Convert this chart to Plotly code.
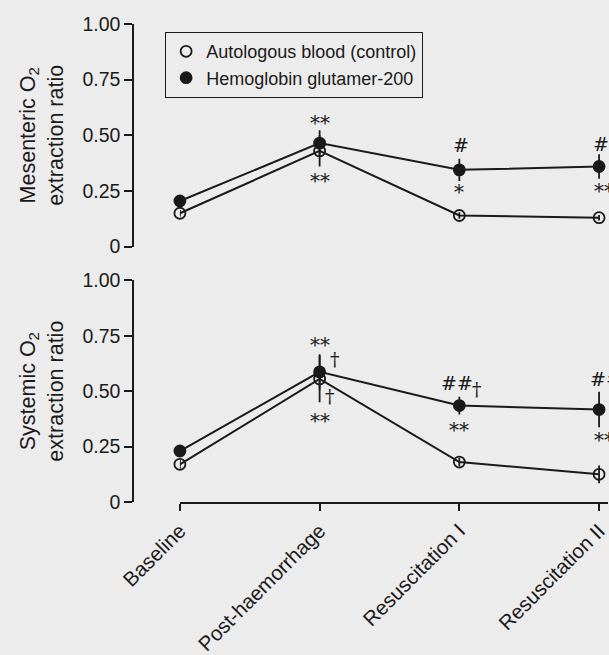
import plotly.graph_objects as go

# ---------------- data ----------------
categories = ["Baseline", "Post-haemorrhage", "Resuscitation I", "Resuscitation II"]
x_pos = [0, 1, 2, 3]

mes_auto = [0.15, 0.43, 0.14, 0.13]
mes_auto_err = [0.015, 0.07, 0.015, 0.012]
mes_hb = [0.205, 0.465, 0.345, 0.36]
mes_hb_err = [0.02, 0.058, 0.05, 0.055]

sys_auto = [0.17, 0.555, 0.18, 0.125]
sys_auto_err = [0.02, 0.105, 0.02, 0.04]
sys_hb = [0.23, 0.587, 0.435, 0.417]
sys_hb_err = [0.02, 0.08, 0.04, 0.08]

y_tickvals = [0, 0.25, 0.5, 0.75, 1.0]
y_ticktext = ["0", "0.25", "0.50", "0.75", "1.00"]

series_names = ["Autologous blood (control)", "Hemoglobin glutamer-200"]

# significance marks: (category index, series, text, yshift, xshift)
mes_marks = [
    (1, "hb", "**", 20, 0),
    (1, "auto", "**", -30, 0),
    (2, "hb", "<i>#</i>", 25, 2),
    (2, "hb", "*", -22, 0),
    (3, "hb", "<i>#</i>", 23, 2),
    (3, "hb", "**", -24, 5),
]
sys_marks = [
    (1, "hb", "**", 27, 0),
    (1, "hb", "\u2020", 13, 15),
    (1, "auto", "\u2020", -17, 10),
    (1, "auto", "**", -42, 0),
    (2, "hb", "<i>##</i>", 23, -2),
    (2, "hb", "\u2020", 17, 18),
    (2, "hb", "**", -24, 0),
    (3, "hb", "<i>##</i>", 31, 7),
    (3, "hb", "**", -30, 5),
]

# ---------------- style ----------------
BG = "#ececec"
INK = "#1a1a1a"
SANS = "Liberation Sans, Arial, Helvetica, sans-serif"
MARKFONT = "DejaVu Serif, Liberation Serif, serif"

fig = go.Figure()


def add_panel(yref, auto, auto_err, hb, hb_err, show_legend):
    for vals, err, name, sym in [
        (auto, auto_err, series_names[0], "circle-open"),
        (hb, hb_err, series_names[1], "circle"),
    ]:
        fig.add_trace(go.Scatter(
            x=x_pos, y=vals, xaxis="x", yaxis=yref, mode="lines",
            line=dict(color=INK, width=2), showlegend=False, hoverinfo="skip",
        ))
        fig.add_trace(go.Scatter(
            x=x_pos, y=vals, xaxis="x", yaxis=yref, mode="markers",
            name=name, showlegend=show_legend, cliponaxis=False,
            marker=dict(symbol=sym, size=11, color=INK,
                        line=dict(color=INK, width=1.8)),
            error_y=dict(type="data", array=err, visible=True,
                         color=INK, thickness=1.8, width=0),
        ))


add_panel("y", mes_auto, mes_auto_err, mes_hb, mes_hb_err, True)
add_panel("y2", sys_auto, sys_auto_err, sys_hb, sys_hb_err, False)

annotations = []
for lst, yref, auto, hb in [(mes_marks, "y", mes_auto, mes_hb), (sys_marks, "y2", sys_auto, sys_hb)]:
    for idx, ser, txt, ys, xs in lst:
        base = hb[idx] if ser == "hb" else auto[idx]
        size = 20 if "*" in txt else 19
        annotations.append(dict(
            x=x_pos[idx], y=base, xref="x", yref=yref, text=txt,
            showarrow=False, yshift=ys, xshift=xs,
            font=dict(family=MARKFONT, size=size, color=INK),
            xanchor="center", yanchor="middle",
        ))

axis_y_common = dict(
    range=[0, 1], tickvals=y_tickvals, ticktext=y_ticktext,
    showgrid=False, zeroline=False, showline=True, linecolor=INK, linewidth=1.5,
    ticks="outside", ticklen=8, tickwidth=1.5, tickcolor=INK,
    tickfont=dict(family=SANS, size=19.5, color=INK),
    anchor="free", position=0,
    title_font=dict(family=SANS, size=21.5, color=INK), title_standoff=12,
)

fig.update_layout(
    width=609, height=655,
    paper_bgcolor=BG, plot_bgcolor=BG,
    margin=dict(l=133, r=0, t=24, b=148),
    font=dict(family=SANS, color=INK),
    xaxis=dict(
        domain=[(180 - 133) / 476, 1], range=[0, 3.064], anchor="y2",
        tickvals=x_pos, ticktext=categories, tickangle=-45,
        ticklabeloverflow="allow",
        showgrid=False, zeroline=False, showline=True, linecolor=INK, linewidth=1.5,
        ticks="outside", ticklen=7, tickwidth=1.5, tickcolor=INK,
        tickfont=dict(family=SANS, size=20.5, color=INK),
    ),
    yaxis=dict(domain=[(507 - 249) / 483, 1],
               title_text="Mesenteric O<sub>2</sub><br>extraction ratio",
               **axis_y_common),
    yaxis2=dict(domain=[0, (507 - 283) / 483],
                title_text="Systemic O<sub>2</sub><br>extraction ratio",
                **axis_y_common),
    legend=dict(x=(165 - 133) / 476, y=(507 - 32) / 483, xanchor="left", yanchor="top",
                bgcolor=BG, bordercolor=INK, borderwidth=1.2,
                font=dict(family=SANS, size=18, color=INK),
                itemwidth=30, tracegroupgap=0),
    annotations=annotations,
    showlegend=True,
)

fig.write_html(
    "out.html",
    config={"displayModeBar": False},
    post_script="document.body.style.margin='0';document.body.style.padding='0';"
                "document.body.style.background='#ececec';",
)
